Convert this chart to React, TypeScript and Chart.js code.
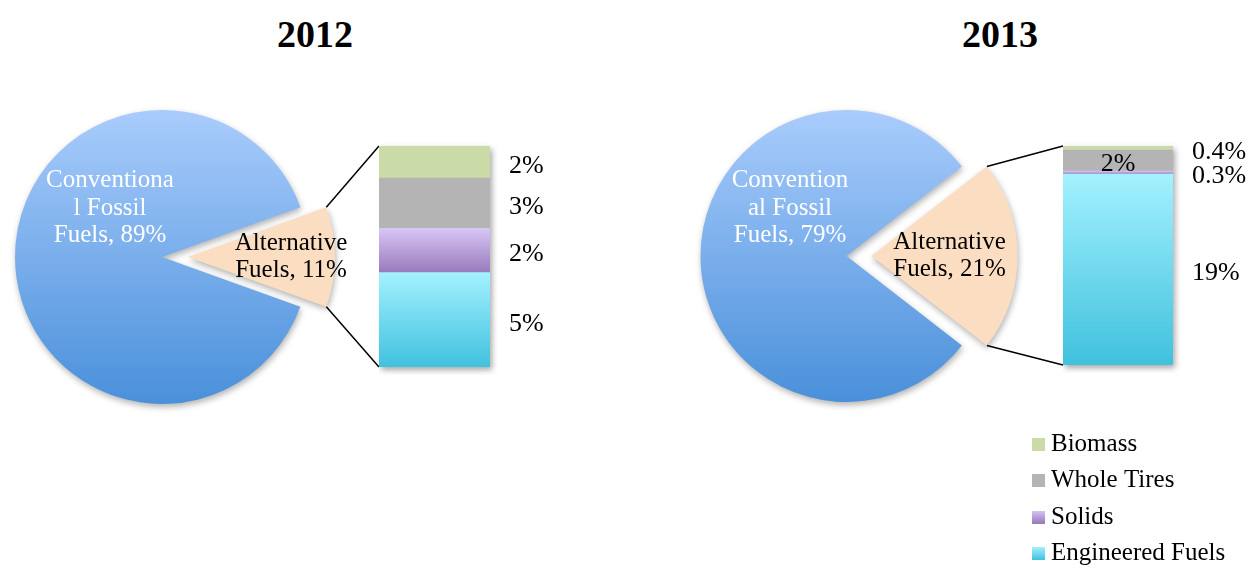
import React, { useEffect, useRef } from "react";
import { Chart, registerables } from "chart.js";

Chart.register(...registerables);

const FONT = "'Liberation Serif', 'Times New Roman', serif";
Chart.defaults.font.family = FONT;

// ---------- data ----------
const years = ["2012", "2013"];
const pieCategories = ["Conventional Fossil Fuels", "Alternative Fuels"];
const pieValues2012 = [89, 11];
const pieValues2013 = [79, 21];
const pieText2012 = [["Conventiona", "l Fossil", "Fuels, 89%"], ["Alternative", "Fuels, 11%"]];
const pieText2013 = [["Convention", "al Fossil", "Fuels, 79%"], ["Alternative", "Fuels, 21%"]];

// alternative-fuel breakdown, stacked bottom to top
const altCategories = ["Engineered Fuels", "Solids", "Whole Tires", "Biomass"];
const altValues2012 = [4.7, 2.2, 2.5, 1.6];
const altValues2013 = [18.3, 0.3, 2.0, 0.4];
const altText2012 = ["5%", "2%", "3%", "2%"];
const altText2013 = ["19%", "0.3%", "2%", "0.4%"];

// ---------- styles / layout ----------
const PIE_TOP = "#A9CCFC";
const PIE_BOTTOM = "#4A90DA";
const PIE_ALT = "#FBDDC1";
const ALT_COLORS = [
  ["#A3F1FE", "#40C1DE"],
  ["#D7C6F3", "#987ABD"],
  ["#B4B4B4", "#B4B4B4"],
  ["#CADBA8", "#CADBA8"],
];

const PANELS = [
  {
    titleX: 315,
    pieBox: { left: 0, top: 92, width: 390, height: 330, padRight: 40 },
    radius: 147,
    explode: [13, 13],
    labelShift: [[-52, -49], [103, 0]],
    labelColors: ["#FFFFFF", "#000000"],
    barBox: { left: 379, top: 146, width: 111, height: 221, padRight: 80 },
    labelGap: 19,
    labelMode: ["right", "right", "right", "right"],
  },
  {
    titleX: 1000,
    pieBox: { left: 690, top: 91, width: 380, height: 330, padRight: 42 },
    radius: 146,
    explode: [12.5, 12.5],
    labelShift: [[-56.5, -48], [78, 0]],
    labelColors: ["#FFFFFF", "#000000"],
    barBox: { left: 1063, top: 146, width: 110, height: 219, padRight: 78 },
    labelGap: 19,
    labelMode: ["right", "right", "inside", "right"],
  },
];
const BAR_PAD_BOTTOM = 8;
const BAR_PAD_TOP = 16;
const LEGEND_BOX = { left: 1026, top: 420, width: 225, height: 148 };

// ---------- helpers ----------
function pieGradient(chart: any, r: number) {
  const a = chart.chartArea;
  if (!a) return PIE_BOTTOM;
  const cy = (a.top + a.bottom) / 2;
  const g = chart.ctx.createLinearGradient(0, cy - r, 0, cy + r);
  g.addColorStop(0, PIE_TOP);
  g.addColorStop(1, PIE_BOTTOM);
  return g;
}

function segmentGradient(c: any, values: number[], i: number) {
  const chart = c.chart;
  const [top, bottom] = ALT_COLORS[i];
  if (top === bottom) return top;
  const y = chart.scales && chart.scales.y;
  if (!y || !chart.chartArea) return top;
  let lo = 0;
  for (let j = 0; j < i; j++) lo += values[j];
  const hi = lo + values[i];
  const g = chart.ctx.createLinearGradient(0, y.getPixelForValue(hi), 0, y.getPixelForValue(lo));
  g.addColorStop(0, top);
  g.addColorStop(1, bottom);
  return g;
}

function makeSwatch(top: string, bottom: string) {
  const c = document.createElement("canvas");
  c.width = 13;
  c.height = 13;
  const x = c.getContext("2d")!;
  const g = x.createLinearGradient(0, 0, 0, 13);
  g.addColorStop(0, top);
  g.addColorStop(1, bottom);
  x.fillStyle = g;
  x.fillRect(0, 0, 13, 13);
  return c;
}

function makeExplodePlugin(amounts: number[]) {
  return {
    id: "explode",
    beforeDatasetDraw(chart: any, args: any) {
      const ctx = chart.ctx;
      args.meta.data.forEach((el: any, i: number) => {
        const d = amounts[i] || 0;
        const mid = (el.startAngle + el.endAngle) / 2;
        ctx.save();
        ctx.shadowColor = "rgba(0,0,0,0.30)";
        ctx.shadowBlur = 6;
        ctx.shadowOffsetX = 1;
        ctx.shadowOffsetY = 3;
        ctx.translate(Math.cos(mid) * d, Math.sin(mid) * d);
        el.draw(ctx);
        ctx.restore();
      });
      return false;
    },
  };
}

function makePieDecor(texts: string[][], p: any, getBar: () => any) {
  return {
    id: "pieDecor",
    afterDatasetsDraw(chart: any) {
      const ctx = chart.ctx;
      const arcs = chart.getDatasetMeta(0).data;
      const centers = arcs.map((el: any, i: number) => {
        const mid = (el.startAngle + el.endAngle) / 2;
        return [el.x + Math.cos(mid) * p.explode[i], el.y + Math.sin(mid) * p.explode[i]];
      });
      // connector lines from the alternative slice to the bar
      const bar = getBar();
      if (bar && bar.chartArea) {
        const alt = arcs[1];
        const [ax, ay] = centers[1];
        const r = alt.outerRadius;
        const ba = bar.chartArea;
        const canvasTop = p.barBox.top - BAR_PAD_TOP;
        const bx = p.barBox.left + ba.left - p.pieBox.left;
        const bTop = canvasTop + ba.top - p.pieBox.top;
        const bBot = canvasTop + ba.bottom - p.pieBox.top;
        ctx.save();
        ctx.strokeStyle = "#000";
        ctx.lineWidth = 1.5;
        ctx.beginPath();
        ctx.moveTo(ax + r * Math.cos(alt.startAngle), ay + r * Math.sin(alt.startAngle));
        ctx.lineTo(bx, bTop);
        ctx.moveTo(ax + r * Math.cos(alt.endAngle), ay + r * Math.sin(alt.endAngle));
        ctx.lineTo(bx, bBot);
        ctx.stroke();
        ctx.restore();
      }
      // slice labels
      ctx.save();
      ctx.font = `25px ${FONT}`;
      ctx.textAlign = "center";
      ctx.textBaseline = "middle";
      const lh = 27.5;
      arcs.forEach((_el: any, i: number) => {
        const lines = texts[i];
        const [cx, cy] = centers[i];
        const [sx, sy] = p.labelShift[i];
        ctx.fillStyle = p.labelColors[i];
        lines.forEach((t: string, k: number) => {
          ctx.fillText(t, cx + sx, cy + sy + (k - (lines.length - 1) / 2) * lh);
        });
      });
      ctx.restore();
    },
  };
}

function makeBarDecor(texts: string[], p: any) {
  return {
    id: "barDecor",
    beforeDatasetsDraw(chart: any) {
      const { ctx, chartArea: a } = chart;
      ctx.save();
      ctx.shadowColor = "rgba(0,0,0,0.35)";
      ctx.shadowBlur = 6;
      ctx.shadowOffsetX = 2;
      ctx.shadowOffsetY = 3;
      ctx.fillStyle = "#ffffff";
      ctx.fillRect(a.left, a.top, a.right - a.left, a.bottom - a.top);
      ctx.restore();
    },
    afterDatasetsDraw(chart: any) {
      const { ctx, chartArea: a } = chart;
      ctx.save();
      ctx.font = `26px ${FONT}`;
      ctx.fillStyle = "#000";
      ctx.textBaseline = "middle";
      chart.data.datasets.forEach((_ds: any, i: number) => {
        const el = chart.getDatasetMeta(i).data[0];
        const cy = (el.y + el.base) / 2 + 4;
        if (p.labelMode[i] === "inside") {
          ctx.textAlign = "center";
          ctx.fillText(texts[i], el.x, cy);
        } else {
          ctx.textAlign = "left";
          ctx.fillText(texts[i], a.right + p.labelGap, cy);
        }
      });
      ctx.restore();
    },
  };
}

function makeBarConfig(values: number[], texts: string[], p: any): any {
  const total = values.reduce((s, v) => s + v, 0);
  return {
    type: "bar",
    data: {
      labels: [""],
      datasets: altCategories.map((name, i) => ({
        label: name,
        data: [values[i]],
        backgroundColor: (c: any) => segmentGradient(c, values, i),
        borderWidth: 0,
        categoryPercentage: 1,
        barPercentage: 1,
      })),
    },
    options: {
      responsive: false,
      animation: false,
      devicePixelRatio: 1,
      events: [],
      layout: { padding: { left: 0, top: BAR_PAD_TOP, right: p.barBox.padRight, bottom: BAR_PAD_BOTTOM } },
      scales: {
        x: { display: false, stacked: true },
        y: { display: false, stacked: true, min: 0, max: total },
      },
      plugins: { legend: { display: false }, tooltip: { enabled: false }, title: { display: false } },
    },
    plugins: [makeBarDecor(texts, p)],
  };
}

function makePieConfig(values: number[], texts: string[][], p: any, getBar: () => any): any {
  const sum = values.reduce((s, v) => s + v, 0);
  const altShare = values[1] / sum;
  return {
    type: "pie",
    data: {
      labels: pieCategories,
      datasets: [
        {
          data: values,
          backgroundColor: (c: any) => (c.dataIndex === 0 ? pieGradient(c.chart, p.radius) : PIE_ALT),
          borderWidth: 0,
          radius: p.radius,
          rotation: 90 + 180 * altShare,
        },
      ],
    },
    options: {
      responsive: false,
      animation: false,
      devicePixelRatio: 1,
      events: [],
      layout: { padding: { left: 0, top: 0, right: p.pieBox.padRight, bottom: 0 } },
      plugins: { legend: { display: false }, tooltip: { enabled: false }, title: { display: false } },
    },
    plugins: [makeExplodePlugin(p.explode), makePieDecor(texts, p, getBar)],
  };
}

function makeLegendConfig(): any {
  const swatches = ALT_COLORS.map(([t, b]) => makeSwatch(t, b));
  return {
    type: "bar",
    data: {
      labels: [],
      datasets: altCategories.map((name, i) => ({ label: name, data: [], backgroundColor: ALT_COLORS[i][1] })),
    },
    options: {
      responsive: false,
      animation: false,
      devicePixelRatio: 1,
      events: [],
      layout: { padding: 0 },
      scales: { x: { display: false }, y: { display: false } },
      plugins: {
        tooltip: { enabled: false },
        title: { display: false },
        legend: {
          display: true,
          position: "top",
          align: "start",
          reverse: true,
          maxHeight: LEGEND_BOX.height,
          labels: {
            usePointStyle: true,
            pointStyleWidth: 1,
            padding: 11.5,
            color: "#000",
            font: { family: FONT, size: 25 },
            generateLabels: (chart: any) =>
              chart.data.datasets.map((ds: any, i: number) => ({
                text: ds.label,
                fillStyle: ALT_COLORS[i][0],
                strokeStyle: "rgba(0,0,0,0)",
                lineWidth: 0,
                hidden: false,
                datasetIndex: i,
                pointStyle: swatches[i],
                fontColor: "#000",
              })),
          },
        },
      },
    },
  };
}

export default function App() {
  const pie0 = useRef<HTMLCanvasElement>(null);
  const pie1 = useRef<HTMLCanvasElement>(null);
  const bar0 = useRef<HTMLCanvasElement>(null);
  const bar1 = useRef<HTMLCanvasElement>(null);
  const legendRef = useRef<HTMLCanvasElement>(null);

  useEffect(() => {
    const charts: Chart[] = [];
    const sets = [
      { pie: pieValues2012, pieText: pieText2012, alt: altValues2012, altText: altText2012, pieRef: pie0, barRef: bar0 },
      { pie: pieValues2013, pieText: pieText2013, alt: altValues2013, altText: altText2013, pieRef: pie1, barRef: bar1 },
    ];
    sets.forEach((s, k) => {
      const p = PANELS[k];
      const barChart = new Chart(s.barRef.current as HTMLCanvasElement, makeBarConfig(s.alt, s.altText, p));
      charts.push(barChart);
      const pieChart = new Chart(
        s.pieRef.current as HTMLCanvasElement,
        makePieConfig(s.pie, s.pieText, p, () => barChart)
      );
      charts.push(pieChart);
    });
    charts.push(new Chart(legendRef.current as HTMLCanvasElement, makeLegendConfig()));
    return () => charts.forEach((c) => c.destroy());
  }, []);

  const pieRefs = [pie0, pie1];
  const barRefs = [bar0, bar1];

  return (
    <div
      style={{
        position: "fixed",
        left: 0,
        top: 0,
        width: 1251,
        height: 568,
        overflow: "hidden",
        background: "#ffffff",
      }}
    >
      {PANELS.map((p, k) => (
        <div
          key={"t" + k}
          style={{
            position: "absolute",
            left: p.titleX - 100,
            top: 14,
            width: 200,
            textAlign: "center",
            font: `bold 38px ${FONT}`,
            lineHeight: "40px",
            color: "#000",
          }}
        >
          {years[k]}
        </div>
      ))}
      {PANELS.map((p, k) => (
        <canvas
          key={"p" + k}
          ref={pieRefs[k]}
          width={p.pieBox.width}
          height={p.pieBox.height}
          style={{
            position: "absolute",
            left: p.pieBox.left,
            top: p.pieBox.top,
            width: p.pieBox.width,
            height: p.pieBox.height,
            zIndex: 1,
          }}
        />
      ))}
      {PANELS.map((p, k) => {
        const w = p.barBox.width + p.barBox.padRight;
        const h = p.barBox.height + BAR_PAD_TOP + BAR_PAD_BOTTOM;
        return (
          <canvas
            key={"b" + k}
            ref={barRefs[k]}
            width={w}
            height={h}
            style={{
              position: "absolute",
              left: p.barBox.left,
              top: p.barBox.top - BAR_PAD_TOP,
              width: w,
              height: h,
              zIndex: 2,
            }}
          />
        );
      })}
      <canvas
        ref={legendRef}
        width={LEGEND_BOX.width}
        height={LEGEND_BOX.height}
        style={{
          position: "absolute",
          left: LEGEND_BOX.left,
          top: LEGEND_BOX.top,
          width: LEGEND_BOX.width,
          height: LEGEND_BOX.height,
          zIndex: 3,
        }}
      />
    </div>
  );
}
